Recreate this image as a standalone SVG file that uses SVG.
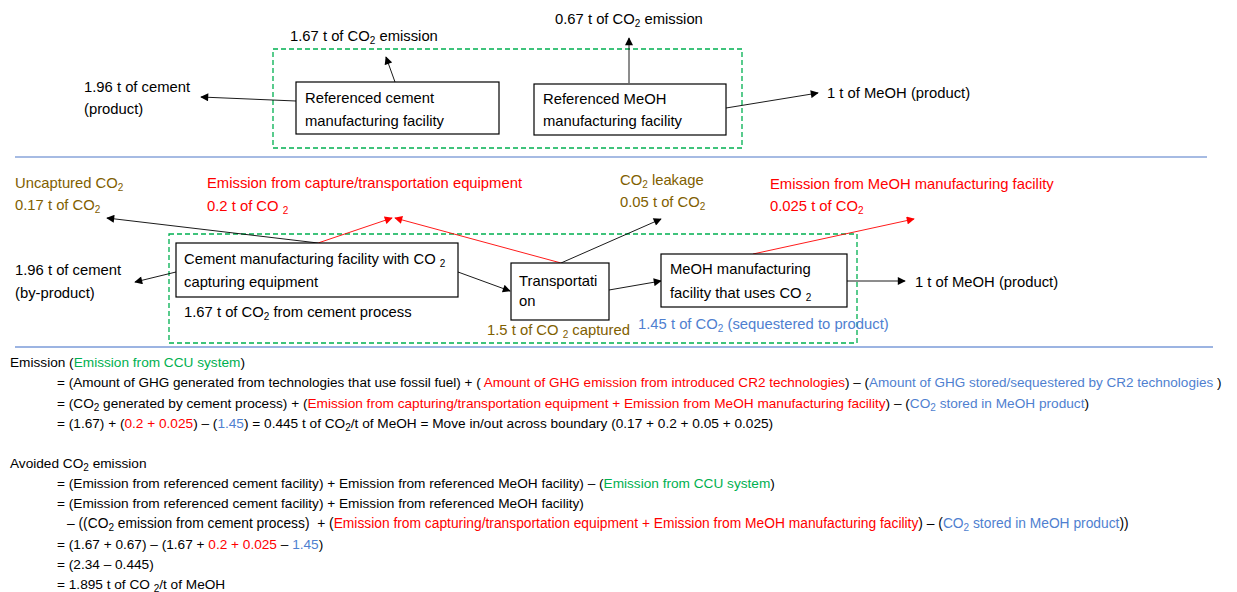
<svg xmlns="http://www.w3.org/2000/svg" width="1237" height="592" viewBox="0 0 1237 592">
<defs>
<marker id="ab" viewBox="0 0 10 10" refX="9" refY="5" markerWidth="9" markerHeight="8" markerUnits="userSpaceOnUse" orient="auto"><path d="M0,0 L10,5 L0,10 z" fill="#000"/></marker>
<marker id="ar" viewBox="0 0 10 10" refX="9" refY="5" markerWidth="9" markerHeight="8" markerUnits="userSpaceOnUse" orient="auto"><path d="M0,0 L10,5 L0,10 z" fill="#ff0000"/></marker>
<style>
text{font-family:"Liberation Sans",Arial,sans-serif;fill:#000}
.t{font-size:14.8px}
.b{font-size:13.65px}
.red{fill:#ff0000}
.grn{fill:#00b050}
.blu{fill:#4f7fd0}
.olv{fill:#7f6000}
.box{fill:#fff;stroke:#000;stroke-width:1.2}
.bnd{fill:none;stroke:#00b050;stroke-width:1.3;stroke-dasharray:5,3}
.ln{stroke:#000;stroke-width:0.9;fill:none;marker-end:url(#ab)}
.lr{stroke:#ff0000;stroke-width:0.9;fill:none;marker-end:url(#ar)}
.sep{stroke:#4f79c8;stroke-width:1.2}
.sep2{stroke:#9cb4e2;stroke-width:2}
</style>
</defs>

<!-- separators -->
<line class="sep" x1="15" y1="157" x2="1207" y2="157"/>
<line class="sep2" x1="15" y1="347" x2="1213" y2="347"/>

<!-- boundaries -->
<rect class="bnd" x="273" y="49" width="469" height="99"/>
<rect class="bnd" x="169" y="234" width="688" height="109"/>

<!-- connectors -->
<g id="connectors">
<line class="ln" x1="296" y1="101" x2="201" y2="97"/>
<line class="ln" x1="395" y1="82" x2="386" y2="57"/>
<line class="ln" x1="629" y1="83" x2="629" y2="38"/>
<line class="ln" x1="726" y1="108" x2="818" y2="93"/>
<line class="ln" x1="318" y1="243" x2="107" y2="218"/>
<line class="lr" x1="318" y1="243" x2="392" y2="218"/>
<line class="lr" x1="561" y1="263" x2="395" y2="218"/>
<line class="ln" x1="561" y1="263" x2="661" y2="219"/>
<line class="lr" x1="753" y1="254" x2="914" y2="219"/>
<line class="ln" x1="176" y1="272" x2="135" y2="282"/>
<line class="ln" x1="458" y1="272" x2="510" y2="291"/>
<line class="ln" x1="609" y1="290" x2="661" y2="281"/>
<line class="ln" x1="847" y1="281" x2="905" y2="281"/>
</g>

<!-- top section -->
<g id="ref-cement">
<rect class="box" x="296" y="82" width="203" height="52"/>
<text class="t" x="305" y="103">Referenced cement</text>
<text class="t" x="305" y="126">manufacturing facility</text>
</g>
<g id="ref-meoh">
<rect class="box" x="534" y="84" width="192" height="51"/>
<text class="t" x="543" y="104">Referenced MeOH</text>
<text class="t" x="543" y="126">manufacturing facility</text>
</g>
<g id="ref-cement-emission"><text class="t" x="290" y="41">1.67 t of CO<tspan font-size="10" dy="3">2</tspan><tspan dy="-3"> emission</tspan></text></g>
<g id="ref-meoh-emission"><text class="t" x="555" y="24">0.67 t of CO<tspan font-size="10" dy="3">2</tspan><tspan dy="-3"> emission</tspan></text></g>
<g id="ref-cement-product"><text class="t" x="84" y="92">1.96 t of cement</text><text class="t" x="84" y="114">(product)</text></g>
<g id="ref-meoh-product"><text class="t" x="827" y="98">1 t of MeOH (product)</text></g>

<!-- middle section -->
<g id="uncaptured">
<text class="t olv" x="15" y="188">Uncaptured CO<tspan font-size="10" dy="3">2</tspan></text>
<text class="t olv" x="15" y="210">0.17 t of CO<tspan font-size="10" dy="3">2</tspan></text>
</g>
<g id="capture-emission">
<text class="t red" x="207" y="188">Emission from capture/transportation equipment</text>
<text class="t red" x="207" y="211">0.2 t of CO <tspan font-size="10" dy="3">2</tspan></text>
</g>
<g id="leakage">
<text class="t olv" x="620" y="185">CO<tspan font-size="10" dy="3">2</tspan><tspan dy="-3"> leakage</tspan></text>
<text class="t olv" x="620" y="207">0.05 t of CO<tspan font-size="10" dy="3">2</tspan></text>
</g>
<g id="meoh-emission">
<text class="t red" x="770" y="189">Emission from MeOH manufacturing facility</text>
<text class="t red" x="770" y="211">0.025 t of CO<tspan font-size="10" dy="3">2</tspan></text>
</g>
<g id="cement-ccu">
<rect class="box" x="176" y="243" width="282" height="54"/>
<text class="t" x="184" y="264">Cement manufacturing facility with CO <tspan font-size="10" dy="3">2</tspan></text>
<text class="t" x="184" y="287">capturing equipment</text>
<text class="t" x="184" y="317">1.67 t of CO<tspan font-size="10" dy="3">2</tspan><tspan dy="-3"> from cement process</tspan></text>
</g>
<g id="cement-byproduct"><text class="t" x="15" y="275">1.96 t of cement</text><text class="t" x="15" y="298">(by-product)</text></g>
<g id="transport">
<rect class="box" x="511" y="263" width="98" height="57"/>
<text class="t" x="519" y="286">Transportati</text>
<text class="t" x="519" y="306">on</text>
<text class="t olv" x="487" y="335">1.5 t of CO <tspan font-size="10" dy="3">2</tspan><tspan dy="-3"> captured</tspan></text>
</g>
<g id="meoh-ccu">
<rect class="box" x="661" y="254" width="186" height="53"/>
<text class="t" x="670" y="274">MeOH manufacturing</text>
<text class="t" x="670" y="298">facility that uses CO <tspan font-size="10" dy="3">2</tspan></text>
<text class="t blu" x="638" y="329">1.45 t of CO<tspan font-size="10" dy="3">2</tspan><tspan dy="-3"> (sequestered to product)</tspan></text>
</g>
<g id="meoh-product"><text class="t" x="915" y="287">1 t of MeOH (product)</text></g>

<!-- bottom equations -->
<g id="emission-eq">
<text class="b" x="10" y="367">Emission (<tspan class="grn">Emission from CCU system</tspan>)</text>
<text class="b" x="57" y="387" style="font-size:13.52px">= (Amount of GHG generated from technologies that use fossil fuel) + ( <tspan class="red">Amount of GHG emission from introduced CR2 technologies</tspan>) – (<tspan class="blu">Amount of GHG stored/sequestered by CR2 technologies </tspan>)</text>
<text class="b" x="57" y="408">= (CO<tspan font-size="10" dy="3">2</tspan><tspan dy="-3"> generated by cement process) + (</tspan><tspan class="red">Emission from capturing/transportation equipment + Emission from MeOH manufacturing facility</tspan>) – (<tspan class="blu">CO</tspan><tspan class="blu" font-size="10" dy="3">2</tspan><tspan class="blu" dy="-3"> stored in MeOH product</tspan>)</text>
<text class="b" x="57" y="428">= (1.67) + (<tspan class="red">0.2 + 0.025</tspan>) – (<tspan class="blu">1.45</tspan>) = 0.445 t of CO<tspan font-size="10" dy="3">2</tspan><tspan dy="-3">/t of MeOH = Move in/out across boundary (0.17 + 0.2 + 0.05 + 0.025)</tspan></text>
</g>
<g id="avoided-eq">
<text class="b" x="10" y="468">Avoided CO<tspan font-size="10" dy="3">2</tspan><tspan dy="-3"> emission</tspan></text>
<text class="b" x="57" y="488">= (Emission from referenced cement facility) + Emission from referenced MeOH facility) – (<tspan class="grn">Emission from CCU system</tspan>)</text>
<text class="b" x="57" y="508">= (Emission from referenced cement facility) + Emission from referenced MeOH facility)</text>
<text class="b" x="67" y="528" style="font-size:13.8px">– ((CO<tspan font-size="10" dy="3">2</tspan><tspan dy="-3"> emission from cement process) &#160;+ (</tspan><tspan class="red">Emission from capturing/transportation equipment + Emission from MeOH manufacturing facility</tspan>) – (<tspan class="blu">CO</tspan><tspan class="blu" font-size="10" dy="3">2</tspan><tspan class="blu" dy="-3"> stored in MeOH product</tspan>))</text>
<text class="b" x="57" y="549">= (1.67 + 0.67) – (1.67 + <tspan class="red">0.2 + 0.025</tspan> – <tspan class="blu">1.45</tspan>)</text>
<text class="b" x="57" y="569">= (2.34 – 0.445)</text>
<text class="b" x="57" y="589">= 1.895 t of CO <tspan font-size="10" dy="3">2</tspan><tspan dy="-3">/t of MeOH</tspan></text>
</g>
</svg>
